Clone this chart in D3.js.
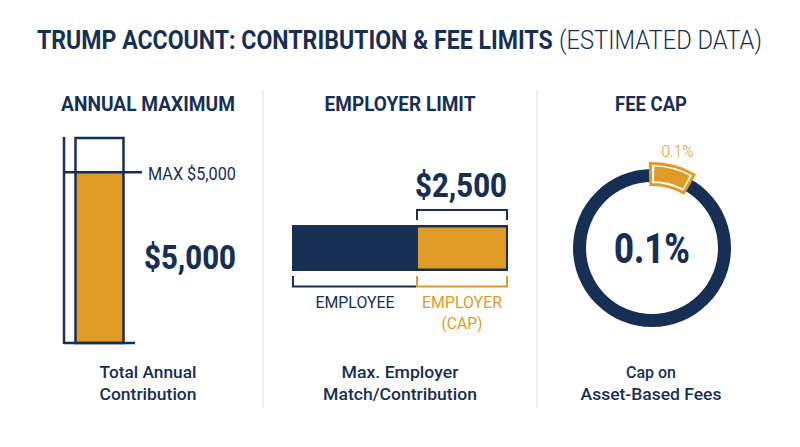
<!DOCTYPE html>
<html>
<head>
<meta charset="utf-8">
<script src="https://cdn.jsdelivr.net/npm/d3@7"></script>
<style>
  html, body { margin: 0; padding: 0; background: #fff; }
  svg { display: block; }
  text { font-family: Roboto, sans-serif; fill: #172f55; }
</style>
</head>
<body>
<svg id="chart"></svg>
<script>
const width = 800;
const height = 447;
const navy = "#172f55";
const gold = "#e09b26";
const rule = "#dcdfe3";

// values
const annualLimits = [6000, 5000];        // box top, filled level
const annualMax = 5000;
const employerSegments = ["EMPLOYEE", "EMPLOYER"];
const employerValues = [3430, 2500];      // drawn widths in the source are not to scale with $5,000
const feeSegments = ["cap", "rest"];
const feeValues = [8.6, 91.4];            // wedge is enlarged in the source, not a true 0.1%
const panelTitles = ["ANNUAL MAXIMUM", "EMPLOYER LIMIT", "FEE CAP"];
const panelCaptions = [
    ["Total Annual", "Contribution"],
    ["Max. Employer", "Match/Contribution"],
    ["Cap on", "Asset-Based Fees"]
];
const panelCentres = [148, 400, 651];

const svg = d3.select("#chart")
    .attr("width", width)
    .attr("height", height)
    .attr("viewBox", `0 0 ${width} ${height}`);

// text squeezed to a set width, the source uses a condensed face
function label(x, y, str, size, weight, len, anchor, color) {
    const t = svg.append("text")
        .attr("text-anchor", anchor || "middle")
        .style("font-size", `${size}px`)
        .style("font-weight", weight)
        .style("fill", color || navy)
        .text(str);
    const sx = len / t.node().getComputedTextLength();
    t.attr("transform", `translate(${x},${y}) scale(${sx},1)`);
    return t;
}

// title
label(37, 49, "TRUMP ACCOUNT: CONTRIBUTION & FEE LIMITS", 26, 700, 516, "start");
label(559, 49, "(ESTIMATED DATA)", 26, 300, 203, "start");

// panel dividers
svg.selectAll(".divider")
    .data([263, 537])
    .enter()
    .append("line")
    .attr("class", "divider")
    .attr("x1", d => d)
    .attr("x2", d => d)
    .attr("y1", 90)
    .attr("y2", 408)
    .style("stroke", rule)
    .style("stroke-width", 1);

// panel titles and captions
const titleLengths = [174, 151, 72];
panelTitles.forEach((t, i) => label(panelCentres[i], 111, t, 20, 700, titleLengths[i]));
const captionLengths = [[97, 97], [117, 154], [50, 141]];
panelCaptions.forEach((lines, i) => {
    lines.forEach((t, j) => label(panelCentres[i], 378 + j * 22, t, 17, 500, captionLengths[i][j]));
});

// ---- annual maximum ----
const yScale = d3.scaleLinear()
    .domain([0, d3.max(annualLimits)])
    .range([343, 138]);

svg.append("rect")
    .attr("x", 75)
    .attr("y", yScale(annualLimits[1]))
    .attr("width", 49)
    .attr("height", yScale(0) - yScale(annualLimits[1]))
    .style("fill", gold);

svg.append("rect")
    .attr("x", 75.5)
    .attr("y", yScale(annualLimits[0]))
    .attr("width", 48)
    .attr("height", yScale(0) - yScale(annualLimits[0]))
    .style("fill", "none")
    .style("stroke", navy)
    .style("stroke-width", 2.5);

const annualLines = [
    [64, 64, yScale(annualLimits[0]) - 1, yScale(0) + 1],
    [64, 135, yScale(0), yScale(0)],
    [64, 142, yScale(annualMax), yScale(annualMax)]
];
svg.selectAll(".annual-line")
    .data(annualLines)
    .enter()
    .append("line")
    .attr("class", "annual-line")
    .attr("x1", d => d[0])
    .attr("x2", d => d[1])
    .attr("y1", d => d[2])
    .attr("y2", d => d[3])
    .style("stroke", navy)
    .style("stroke-width", 2.5);

label(148, 180, "MAX $5,000", 17.5, 400, 88, "start");
label(144, 269, "$5,000", 34, 800, 92, "start");

// ---- employer limit ----
const xScale = d3.scaleLinear()
    .domain([0, d3.sum(employerValues)])
    .range([292, 508]);
const split = xScale(employerValues[0]);

svg.append("rect")
    .attr("x", xScale(0))
    .attr("y", 225)
    .attr("width", xScale.range()[1] - xScale(0))
    .attr("height", 46)
    .style("fill", navy);

svg.append("rect")
    .attr("x", split + 1)
    .attr("y", 227.5)
    .attr("width", xScale.range()[1] - split - 3)
    .attr("height", 41)
    .style("fill", gold);

const bracket = d3.line();
const brackets = [
    { pts: [[417, 220], [417, 210], [507, 210], [507, 220]], color: navy },
    { pts: [[293, 276], [293, 286.5], [416, 286.5]], color: navy },
    { pts: [[417, 276], [417, 286.5], [507, 286.5], [507, 276]], color: gold }
];
svg.selectAll(".bracket")
    .data(brackets)
    .enter()
    .append("path")
    .attr("class", "bracket")
    .attr("d", d => bracket(d.pts))
    .style("fill", "none")
    .style("stroke", d => d.color)
    .style("stroke-width", 2);

label(461, 197, "$2,500", 34, 800, 92);
label(355, 308, "EMPLOYEE", 17, 400, 79);
label(462, 308, "EMPLOYER", 17, 400, 80, "middle", gold);
label(462, 329, "(CAP)", 17, 400, 41, "middle", gold);

// ---- fee cap ----
const feeCentre = [652, 248];
const pie = d3.pie().sort(null).startAngle(-0.02).endAngle(2 * Math.PI - 0.02)(feeValues);
const fee = svg.append("g").attr("transform", `translate(${feeCentre})`);

fee.append("path")
    .attr("d", d3.arc().innerRadius(66).outerRadius(79).startAngle(0).endAngle(2 * Math.PI))
    .style("fill", navy);

fee.append("path")
    .attr("d", d3.arc().innerRadius(63.5).outerRadius(84.5)(pie[0]))
    .style("fill", "#fff")
    .style("stroke", gold)
    .style("stroke-width", 3);

const inner = pie[0];
fee.append("path")
    .attr("d", d3.arc().innerRadius(67).outerRadius(81.5)
        .startAngle(inner.startAngle + 0.05).endAngle(inner.endAngle - 0.04)())
    .style("fill", gold);

label(677.5, 157, "0.1%", 16.5, 300, 32, "middle", gold);
label(652, 263, "0.1%", 42, 800, 76);
</script>
</body>
</html>
